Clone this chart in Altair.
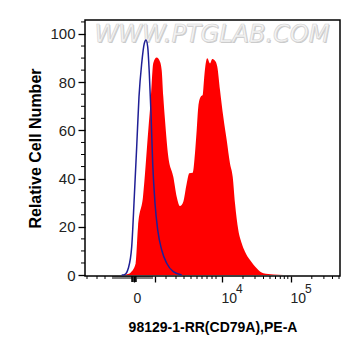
import altair as alt
import pandas as pd

# Red filled histogram (sample), x in display channel units (0-255), y in % of max
red_ch = [38, 42, 46, 50.7, 53, 58, 63.3, 66, 68.3, 71.7, 75, 76.7, 78.3, 80, 83.3, 88.3,
          91.7, 95, 98.3, 101.7, 104.3, 107.7, 110, 111.7, 113.3, 115.7, 117.7, 119, 121,
          122.3, 125, 127.3, 130, 132.3, 135, 138.3, 141.7, 145, 147.7, 150, 153.3, 156.7,
          160, 165, 171.7, 178.3, 188.3, 198.3]
red_val = [0, 0.3, 1.2, 4.9, 19.9, 32.5, 60.2, 74, 88, 90.2, 88.5, 85, 74, 64.3, 49.1, 40.8,
           32.5, 28.6, 30.4, 38, 42.2, 42.4, 50.6, 60.2, 69.8, 74, 74.7, 80.9, 88.5,
           89.9, 87.8, 89.6, 88.9, 86.4, 76.8, 65.7, 56, 46.3, 40.8, 29.8, 18.7, 13.2,
           9.7, 6.2, 2.8, 0.7, 0.2, 0]

# Blue outline histogram (control)
blue_ch = [36.7, 40, 43.3, 46.7, 49.3, 51.7, 54, 56.7, 59.3, 61, 62.7, 64.3, 66, 67.7, 70,
           72.7, 76.7, 81.7, 88.3, 96.7]
blue_val = [0, 0.3, 2.8, 11.7, 32.5, 53.2, 74, 87.8, 96.1, 97.5, 94.7, 83.7, 67.1, 46.3, 29.8,
            18.7, 10.4, 4.9, 1.4, 0]

# Axis ticks
x_major = [49, 70, 137, 206]
x_block = [47, 48, 50, 51]
x_minor = [2, 12, 20, 28, 30, 32, 34, 36, 38, 40, 42, 44, 46,
           53, 55, 57, 59, 61, 63, 65, 67,
           81, 91, 99, 106, 112, 117, 122, 127, 131,
           158, 170, 178.5, 185, 190.5, 195.3, 199.3, 202.8,
           226.8, 238.9, 247.5, 254]
x_label_ch = [49, 137, 206]
x_label_txt = ["0", "10", "10"]
x_exp_ch = [137, 206]
x_exp_txt = ["4", "5"]
y_major = [0, 20, 40, 60, 80, 100]
y_minor = [5, 10, 15, 25, 30, 35, 45, 50, 55, 65, 70, 75, 85, 90, 95, 105]

watermark = "WWW.PTGLAB.COM"
x_title = "98129-1-RR(CD79A),PE-A"
y_title = "Relative Cell Number"

W, H = 255, 256
FONT = "Liberation Sans"
xs = alt.Scale(domain=[0, 255], nice=False, zero=False)
ys = alt.Scale(domain=[-0.4, 105.8], nice=False, zero=False)

label_expr = " : ".join(
    f"datum.value == {c} ? '{t}'" for c, t in zip(x_label_ch, x_label_txt)
) + " : ''"

red_df = pd.DataFrame({"ch": red_ch, "v": red_val})
blue_df = pd.DataFrame({"ch": blue_ch, "v": blue_val})

area = alt.Chart(red_df).mark_area(color="#ff0000", interpolate="monotone").encode(
    x=alt.X("ch:Q", scale=xs, axis=alt.Axis(
        values=x_major, labelExpr=label_expr, tickSize=6, tickColor="black", tickWidth=1.3,
        domain=False, grid=False, labelFont=FONT, labelFontSize=14, labelColor="#222",
        labelBaseline="alphabetic", labelPadding=20, labelAlign="left", labelOffset=-1,
        labelOverlap=False, labelFlush=False,
        title=x_title, titleFont=FONT, titleFontSize=14, titleFontWeight="bold",
        titleColor="black", titleBaseline="alphabetic", titleY=55.5)),
    y=alt.Y("v:Q", scale=ys, axis=alt.Axis(
        values=y_major, tickSize=7, tickColor="black", tickWidth=1.3, domain=False,
        grid=False, labelFont=FONT, labelFontSize=15, labelColor="#222", labelPadding=3,
        title=y_title, titleFont=FONT, titleFontSize=16, titleFontWeight="bold",
        titleColor="black", titleBaseline="alphabetic", titleAngle=270,
        titleX=-45, titleY=128, titleAlign="center")),
)

line = alt.Chart(blue_df).mark_line(color="#1f1f96", strokeWidth=1.5,
                                    interpolate="monotone").encode(
    x=alt.X("ch:Q", scale=xs), y=alt.Y("v:Q", scale=ys))

xminor = alt.Chart(pd.DataFrame({"ch": x_minor})).mark_rule(
    color="black", strokeWidth=1).encode(
    x=alt.X("ch:Q", scale=xs), y=alt.value(H), y2=alt.value(H + 3))

xblock = alt.Chart(pd.DataFrame({"ch": x_block})).mark_rule(
    color="black", strokeWidth=1.5).encode(
    x=alt.X("ch:Q", scale=xs), y=alt.value(H), y2=alt.value(H + 6))

yminor = alt.Chart(pd.DataFrame({"v": y_minor})).mark_rule(
    color="black", strokeWidth=1).encode(
    y=alt.Y("v:Q", scale=ys), x=alt.value(-4), x2=alt.value(0))

xexp = alt.Chart(pd.DataFrame({"ch": x_exp_ch, "e": x_exp_txt})).mark_text(
    align="left", baseline="alphabetic", font=FONT, fontSize=12, color="#222", dx=14).encode(
    x=alt.X("ch:Q", scale=xs), y=alt.value(H + 17), text="e:N")

wm_df = pd.DataFrame({"t": [watermark]})
wm_shadow = alt.Chart(wm_df).mark_text(
    font="DejaVu Sans", fontSize=24, fontStyle="italic", color="#c8c8c8",
    align="center", baseline="alphabetic", dx=1, dy=1).encode(
    x=alt.value(127), y=alt.value(22), text="t:N")
wm = alt.Chart(wm_df).mark_text(
    font="DejaVu Sans", fontSize=24, fontStyle="italic", color="#f4f4f4",
    stroke="#d4d4d4", strokeWidth=0.7,
    align="center", baseline="alphabetic").encode(
    x=alt.value(127), y=alt.value(22), text="t:N")

chart = alt.layer(wm_shadow, wm, area, line, xminor, xblock, yminor, xexp).properties(
    width=W, height=H,
    autosize=alt.AutoSizeParams(type="none"),
    padding={"left": 77, "top": 12, "right": 10, "bottom": 60},
    background="white",
).configure_view(stroke="black", strokeWidth=1.5)

chart.save("out.html", embed_options={"renderer": "svg", "actions": False})
